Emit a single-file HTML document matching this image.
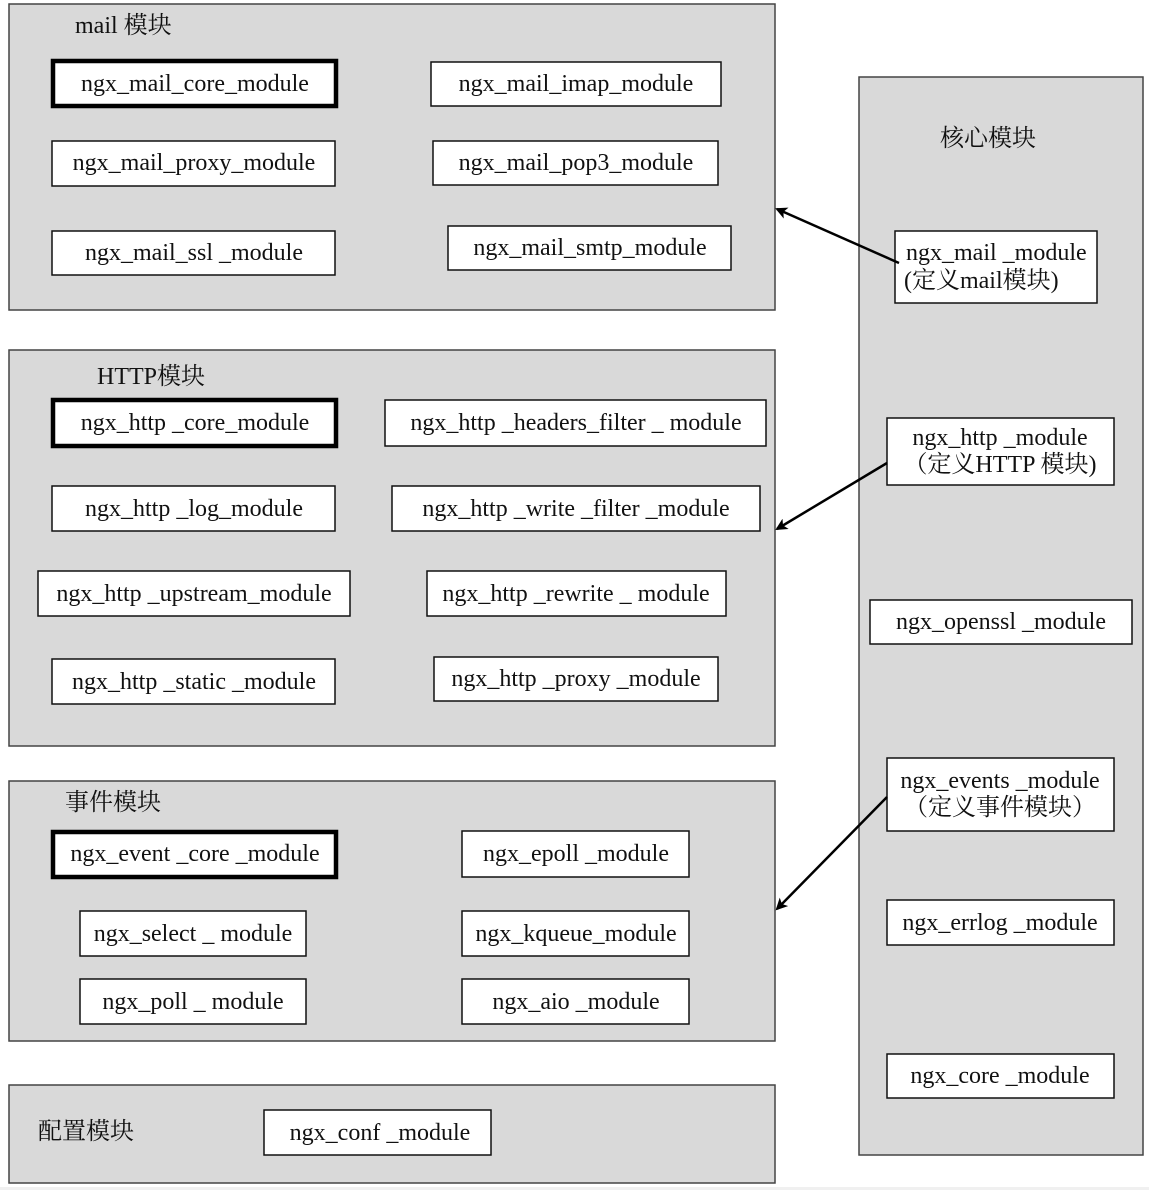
<!DOCTYPE html>
<html><head><meta charset="utf-8"><style>
html,body{margin:0;padding:0;background:#fff;}
svg text{font-family:"Liberation Serif","Noto Serif CJK SC",serif;font-size:24px;fill:#111;}
</style></head><body>
<svg width="1149" height="1190" xmlns="http://www.w3.org/2000/svg">
<defs><marker id="a" markerWidth="12" markerHeight="12" refX="10" refY="6" orient="auto" markerUnits="userSpaceOnUse"><path d="M0,0 L12,6 L0,12 L3,6 z" fill="#000"/></marker></defs>
<rect x="0" y="1187" width="1149" height="3" fill="#f0f0f0"/>
<g fill="#d9d9d9" stroke="#444" stroke-width="1.5">
<rect x="9" y="4" width="766" height="306"/>
<rect x="9" y="350" width="766" height="396"/>
<rect x="9" y="781" width="766" height="260"/>
<rect x="9" y="1085" width="766" height="98"/>
<rect x="859" y="77" width="284" height="1078"/>
</g>
<text x="75" y="33">mail 模块</text>
<text x="97" y="384">HTTP模块</text>
<text x="65" y="810">事件模块</text>
<text x="38" y="1139">配置模块</text>
<text x="940" y="146">核心模块</text>
<g fill="#fff" stroke="#111" stroke-width="1.5">
<rect x="431" y="62" width="290" height="44"/>
<rect x="52" y="141" width="283" height="45"/>
<rect x="433" y="141" width="285" height="44"/>
<rect x="52" y="231" width="283" height="44"/>
<rect x="448" y="226" width="283" height="44"/>
<rect x="385" y="400" width="381" height="46"/>
<rect x="52" y="486" width="283" height="45"/>
<rect x="392" y="486" width="368" height="45"/>
<rect x="38" y="571" width="312" height="45"/>
<rect x="427" y="571" width="299" height="45"/>
<rect x="52" y="659" width="283" height="45"/>
<rect x="434" y="657" width="284" height="44"/>
<rect x="462" y="831" width="227" height="46"/>
<rect x="80" y="911" width="226" height="45"/>
<rect x="462" y="911" width="227" height="45"/>
<rect x="80" y="979" width="226" height="45"/>
<rect x="462" y="979" width="227" height="45"/>
<rect x="264" y="1110" width="227" height="45"/>
<rect x="895" y="231" width="202" height="72"/>
<rect x="887" y="418" width="227" height="67"/>
<rect x="870" y="600" width="262" height="44"/>
<rect x="887" y="758" width="227" height="73"/>
<rect x="887" y="900" width="227" height="45"/>
<rect x="887" y="1054" width="227" height="44"/>
</g>
<g fill="#fff" stroke="#000" stroke-width="4.5">
<rect x="53" y="61" width="283" height="45"/>
<rect x="53" y="400" width="283" height="46"/>
<rect x="53" y="832" width="283" height="45"/>
</g>
<g text-anchor="middle">
<text x="195" y="91">ngx_mail_core_module</text>
<text x="576" y="91">ngx_mail_imap_module</text>
<text x="194" y="170">ngx_mail_proxy_module</text>
<text x="576" y="170">ngx_mail_pop3_module</text>
<text x="194" y="260">ngx_mail_ssl _module</text>
<text x="590" y="255">ngx_mail_smtp_module</text>
<text x="195" y="430">ngx_http _core_module</text>
<text x="576" y="430">ngx_http _headers_filter _ module</text>
<text x="194" y="516">ngx_http _log_module</text>
<text x="576" y="516">ngx_http _write _filter _module</text>
<text x="194" y="601">ngx_http _upstream_module</text>
<text x="576" y="601">ngx_http _rewrite _ module</text>
<text x="194" y="689">ngx_http _static  _module</text>
<text x="576" y="686">ngx_http _proxy _module</text>
<text x="195" y="861">ngx_event _core _module</text>
<text x="576" y="861">ngx_epoll _module</text>
<text x="193" y="941">ngx_select _ module</text>
<text x="576" y="941">ngx_kqueue_module</text>
<text x="193" y="1009">ngx_poll _ module</text>
<text x="576" y="1009">ngx_aio _module</text>
<text x="380" y="1140">ngx_conf _module</text>
<text x="1001" y="629">ngx_openssl _module</text>
<text x="1000" y="930">ngx_errlog _module</text>
<text x="1000" y="1083">ngx_core _module</text>
<text x="1000" y="445">ngx_http _module</text>
<text x="1000" y="472">（定义HTTP 模块)</text>
<text x="1000" y="788">ngx_events _module</text>
<text x="1000" y="815">（定义事件模块）</text>
</g>
<text x="906" y="260">ngx_mail _module</text>
<text x="904" y="288">(定义mail模块)</text>
<g stroke="#000" stroke-width="2.5" marker-end="url(#a)">
<line x1="899" y1="263" x2="777" y2="209"/>
<line x1="887" y1="463" x2="777" y2="529"/>
<line x1="887" y1="797" x2="777" y2="909"/>
</g>
</svg>
</body></html>
